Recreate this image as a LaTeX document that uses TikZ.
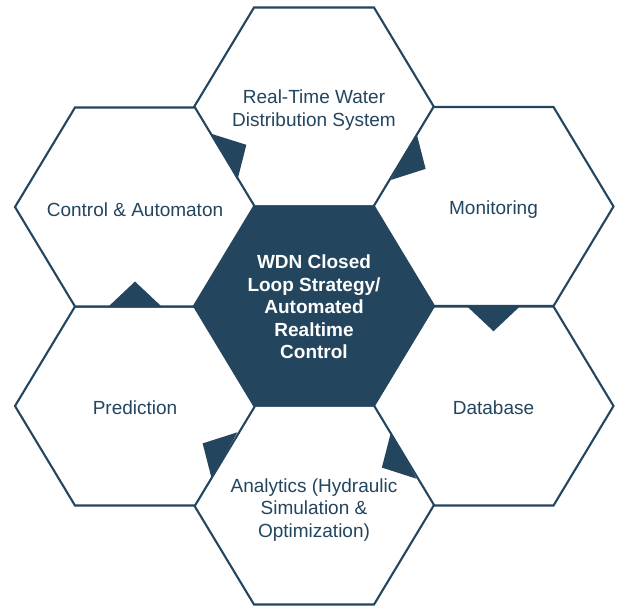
\documentclass[tikz,border=0pt]{standalone}
\usepackage{fontspec}
\setmainfont{Liberation Sans}
\usetikzlibrary{calc}
\definecolor{navy}{RGB}{35,69,94}
\tikzset{
  hexline/.style={draw=navy, line width=2.1pt, line join=miter},
  outerhex/.pic={\path[hexline,fill=white] (-120,0) -- (-60,-99.5) -- (60,-99.5) -- (120,0) -- (60,99.5) -- (-60,99.5) -- cycle;},
  corehex/.pic={\path[hexline,fill=navy] (-120,0) -- (-60,-99.5) -- (60,-99.5) -- (120,0) -- (60,99.5) -- (-60,99.5) -- cycle;},
  celltext/.style={text=navy, align=center, inner sep=0pt, font=\fontsize{19}{22.5}\selectfont},
  coretext/.style={text=white, align=center, inner sep=0pt, font=\bfseries\fontsize{19}{22.5}\selectfont},
  flowtip/.style={fill=navy}
}
\begin{document}
\begin{tikzpicture}[x=1pt,y=-1pt]
\useasboundingbox (0,0) rectangle (617,606);
% hexagon cells
\pic at (314,107) {outerhex};
\pic at (493.5,206.5) {outerhex};
\pic at (493.5,406) {outerhex};
\pic at (314,505) {outerhex};
\pic at (135,406) {outerhex};
\pic at (135,207) {outerhex};
\pic at (314,306) {corehex};
% anchor coordinates at cell centres
\coordinate (ctop) at (314,107);
\coordinate (cmon) at (493.5,206.5);
\coordinate (cdb) at (493.5,406);
\coordinate (cana) at (314,505);
\coordinate (cpred) at (135,406);
\coordinate (cctrl) at (135,207);
% texts
\node[celltext] (top) at (314,110) {Real-Time Water\\Distribution System};
\node[celltext] (mon) at (493.5,209.5) {Monitoring};
\node[celltext] (db) at (493.5,408) {Database};
\node[celltext] (ana) at (314,510) {Analytics (Hydraulic\\Simulation \&\\Optimization)};
\node[celltext] (pred) at (135,408) {Prediction};
\node[celltext] (ctrl) at (135,209.5) {Control \& Automaton};
\node[coretext] (core) at (314,307) {WDN Closed\\Loop Strategy/\\Automated\\Realtime\\Control};
% flow arrowheads on shared edges
\foreach \a/\b in {cpred/cctrl, cctrl/ctop, ctop/cmon, cmon/cdb, cdb/cana, cana/cpred}{
  \coordinate (m) at ($(\a)!0.5!(\b)$);
  \fill[flowtip] ($(m)!26.5pt!90:(\b)$) -- ($(m)!25pt!(\b)$) -- ($(m)!26.5pt!-90:(\b)$) -- cycle;
}
\end{tikzpicture}
\end{document}
